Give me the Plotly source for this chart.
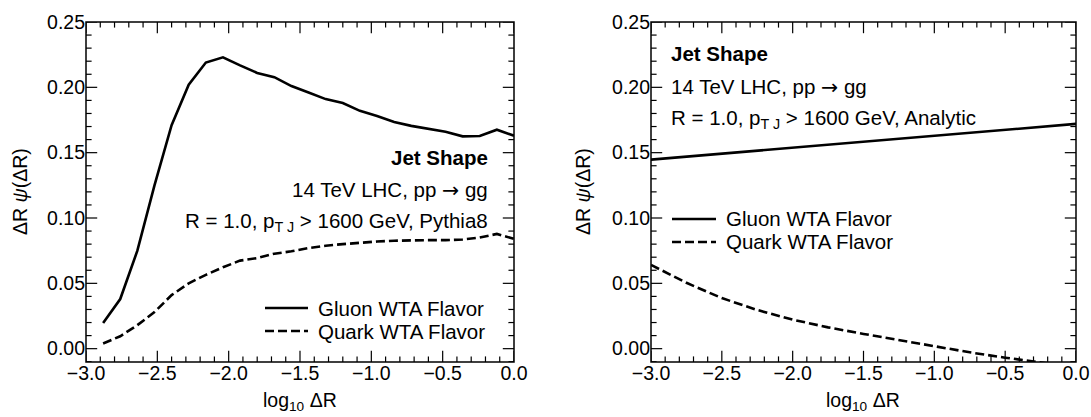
import plotly.graph_objects as go

# ---- data ----
x_pythia = [-2.88, -2.76, -2.64, -2.52, -2.40, -2.28, -2.16, -2.04, -1.92, -1.80,
            -1.68, -1.56, -1.44, -1.32, -1.20, -1.08, -0.96, -0.84, -0.72, -0.60,
            -0.48, -0.36, -0.24, -0.12, 0.00]
gluon_pythia = [0.0196, 0.038, 0.075, 0.125, 0.171, 0.202, 0.219, 0.223, 0.2168, 0.211,
                0.2078, 0.201, 0.196, 0.191, 0.188, 0.182, 0.178, 0.1734, 0.1705, 0.1685,
                0.166, 0.1625, 0.1627, 0.1676, 0.163]
quark_pythia = [0.004, 0.0095, 0.018, 0.028, 0.041, 0.050, 0.0565, 0.0623, 0.0674, 0.0693,
                0.0727, 0.0745, 0.077, 0.0788, 0.080, 0.0812, 0.082, 0.0826, 0.083, 0.0831,
                0.0831, 0.0835, 0.085, 0.0878, 0.084]

x_analytic = [-3.0, -2.75, -2.5, -2.25, -2.0, -1.75, -1.5, -1.25, -1.0, -0.75, -0.5, -0.25, 0.0]
gluon_analytic = [0.1447, 0.1470, 0.1493, 0.1516, 0.1539, 0.1562, 0.1585, 0.1607, 0.1630,
                  0.1653, 0.1676, 0.1698, 0.1720]
quark_analytic = [0.0641, 0.0504, 0.0387, 0.0296, 0.0222, 0.0163, 0.0113, 0.0066, 0.0020,
                  -0.0028, -0.0069, -0.0106, -0.0140]

series_names = ["Gluon WTA Flavor", "Quark WTA Flavor"]

# axis ticks
x_range = [-3.0, 0.0]
y_range = [-0.0102, 0.25]
x_major = [-3.0, -2.5, -2.0, -1.5, -1.0, -0.5, 0.0]
y_major = [0.00, 0.05, 0.10, 0.15, 0.20, 0.25]
x_minor = [round(-3.0 + 0.1 * i, 2) for i in range(31) if i % 5 != 0]
y_minor = [round(-0.01 + 0.01 * i, 2) for i in range(27) if (i - 1) % 5 != 0]

W, H = 1091, 417
FONT = "Liberation Sans, Arial, Helvetica, sans-serif"
TICKFS = 19.5
TEXTFS = 20.5
LEGFS = 20.5
LW = 2.6
DASH = "9px,4px"
MAJ, MIN = 16, 8  # marker length => inside tick length MAJ/2, MIN/2

fig = go.Figure()

panels = [("x", "y", x_pythia, gluon_pythia, quark_pythia),
          ("x2", "y2", x_analytic, gluon_analytic, quark_analytic)]

for xa, ya, xs, g, q in panels:
    fig.add_trace(go.Scatter(x=xs, y=g, mode="lines", name=series_names[0],
                             line=dict(color="black", width=LW), xaxis=xa, yaxis=ya,
                             showlegend=False))
    fig.add_trace(go.Scatter(x=xs, y=q, mode="lines", name=series_names[1],
                             line=dict(color="black", width=LW, dash=DASH), xaxis=xa, yaxis=ya,
                             showlegend=False))
    # tick marks (inside, on all four sides), clipped to the plot area
    for vals, size in [(x_major, MAJ), (x_minor, MIN)]:
        for yedge in y_range:
            fig.add_trace(go.Scatter(x=vals, y=[yedge] * len(vals), mode="markers",
                                     marker=dict(symbol="line-ns", size=size,
                                                 line=dict(color="black", width=1.2)),
                                     xaxis=xa, yaxis=ya, showlegend=False, hoverinfo="skip",
                                     cliponaxis=True))
    for vals, size in [(y_major, MAJ), (y_minor, MIN)]:
        for xedge in x_range:
            fig.add_trace(go.Scatter(x=[xedge] * len(vals), y=vals, mode="markers",
                                     marker=dict(symbol="line-ew", size=size,
                                                 line=dict(color="black", width=1.2)),
                                     xaxis=xa, yaxis=ya, showlegend=False, hoverinfo="skip",
                                     cliponaxis=True))

T, B = 22, 362
plot_h = B - T


def px2paper_x(px):
    return px / W


def py2paper_y(py):
    return (B - py) / plot_h


common_x = dict(range=x_range, tickmode="array", tickvals=x_major, tickformat=".1f",
                ticks="", showline=False, showgrid=False, zeroline=False, automargin=False,
                ticklabelstandoff=-3,
                tickfont=dict(family=FONT, size=TICKFS, color="black"))
common_y = dict(range=y_range, tickmode="array", tickvals=y_major, tickformat=".2f",
                ticks="", showline=False, showgrid=False, zeroline=False, automargin=False,
                tickfont=dict(family=FONT, size=TICKFS, color="black"))

left_dom = [86 / W, 514 / W]
right_dom = [651 / W, 1076 / W]

fig.update_layout(
    template="none",
    width=W, height=H,
    margin=dict(l=0, r=0, t=T, b=H - B, pad=0),
    paper_bgcolor="white", plot_bgcolor="white",
    font=dict(family=FONT, color="black"),
    xaxis=dict(domain=left_dom, anchor="y", **common_x),
    yaxis=dict(domain=[0, 1], anchor="x", **common_y),
    xaxis2=dict(domain=right_dom, anchor="y2", **common_x),
    yaxis2=dict(domain=[0, 1], anchor="x2", **common_y),
    showlegend=False,
)

shapes = []
# frames
for xa, ya in [("x", "y"), ("x2", "y2")]:
    shapes.append(dict(type="rect", xref=xa + " domain", yref=ya + " domain",
                       x0=0, x1=1, y0=0, y1=1, line=dict(color="black", width=1.5),
                       fillcolor="rgba(0,0,0,0)", layer="above"))

ARROW = '<span style="font-family:DejaVu Sans">→</span>'
ann = []
for txt, yc in [("<b>Jet Shape</b>", 157),
                ("14 TeV LHC, pp " + ARROW + " gg", 190),
                ("R = 1.0, p<sub>T J</sub> > 1600 GeV, Pythia8", 222)]:
    ann.append(dict(x=px2paper_x(490), y=py2paper_y(yc), xref="paper", yref="paper", text=txt,
                    showarrow=False, xanchor="right", yanchor="middle",
                    font=dict(family=FONT, size=TEXTFS, color="black")))
for txt, yc in [("<b>Jet Shape</b>", 53), ("14 TeV LHC, pp " + ARROW + " gg", 87),
                ("R = 1.0, p<sub>T J</sub> > 1600 GeV, Analytic", 119)]:
    ann.append(dict(x=px2paper_x(669), y=py2paper_y(yc), xref="paper", yref="paper", text=txt,
                    showarrow=False, xanchor="left", yanchor="middle",
                    font=dict(family=FONT, size=TEXTFS, color="black")))

# legends (line sample + label)
for (x0, x1, xt, ys) in [(265, 308, 316, (308, 331)), (672, 716, 724, (219, 242))]:
    for name, yc, dsh in zip(series_names, ys, ["solid", DASH]):
        shapes.append(dict(type="line", xref="paper", yref="paper",
                           x0=px2paper_x(x0), x1=px2paper_x(x1),
                           y0=py2paper_y(yc), y1=py2paper_y(yc),
                           line=dict(color="black", width=LW, dash=dsh)))
        ann.append(dict(x=px2paper_x(xt), y=py2paper_y(yc), xref="paper", yref="paper", text=name,
                        showarrow=False, xanchor="left", yanchor="middle",
                        font=dict(family=FONT, size=LEGFS, color="black")))

ytitle = "ΔR <i>ψ</i>(ΔR)"
xtitle = "log<sub>10</sub> ΔR"
for xc in [20, 583]:
    ann.append(dict(x=px2paper_x(xc), y=py2paper_y(192), xref="paper", yref="paper", text=ytitle,
                    showarrow=False, textangle=-90, xanchor="center", yanchor="middle",
                    font=dict(family=FONT, size=TICKFS, color="black")))
for xc in [300, 863]:
    ann.append(dict(x=px2paper_x(xc), y=py2paper_y(401), xref="paper", yref="paper", text=xtitle,
                    showarrow=False, xanchor="center", yanchor="middle",
                    font=dict(family=FONT, size=TICKFS, color="black")))
fig.update_layout(annotations=ann, shapes=shapes)

fig.write_html("out.html")
